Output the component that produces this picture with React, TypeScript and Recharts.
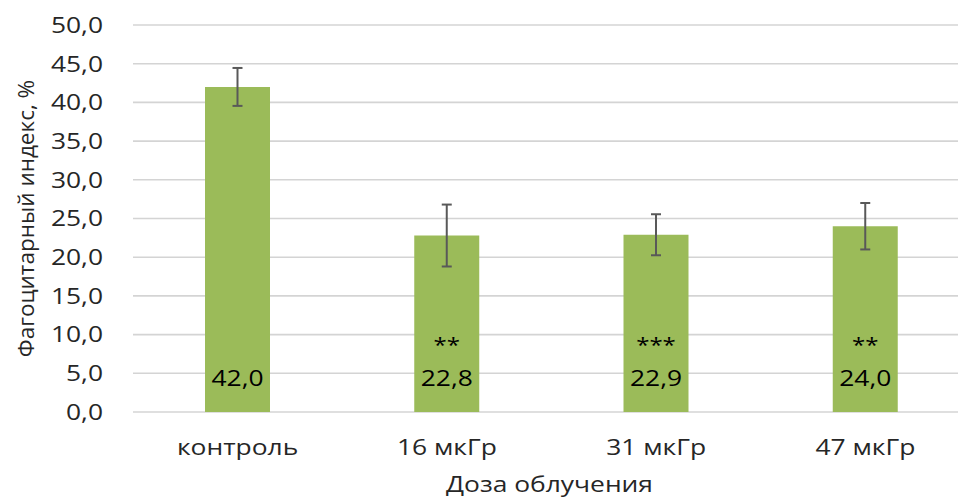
import React from 'react';
import {
  BarChart,
  Bar,
  XAxis,
  YAxis,
  CartesianGrid,
  ErrorBar,
  LabelList,
  Label,
} from 'recharts';

// Phagocytic index by irradiation dose
const categories = ['контроль', '16 мкГр', '31 мкГр', '47 мкГр'];
const phagocyticIndex = [42.0, 22.8, 22.9, 24.0];
const stdError = [2.45, 4.0, 2.65, 3.0];
const significance = ['', '**', '***', '**'];
const yTicks = [0, 5, 10, 15, 20, 25, 30, 35, 40, 45, 50];

const rows = categories.map((name, i) => ({
  name,
  value: phagocyticIndex[i],
  err: stdError[i],
  sig: significance[i],
}));

const FONT = '"Open Sans", "Noto Sans", sans-serif';
const TEXT = '#262626';
const BAR = '#9bbb59';
// the horizontal texts use a wide face: stretch them sideways
const WIDE = 1.2;

const fmt = (v: number) => v.toFixed(1).replace('.', ',');

const XTick = (props: any) => {
  const { x, y, payload } = props;
  return (
    <g transform={`translate(${x},${y}) scale(${WIDE},1)`}>
      <text x={0} y={0} dy={15.6} textAnchor="middle" fontFamily={FONT} fontSize={22} fill={TEXT}>
        {payload.value}
      </text>
    </g>
  );
};

const YTick = (props: any) => {
  const { x, y, payload } = props;
  return (
    <g transform={`translate(${x},${y}) scale(${WIDE},1)`}>
      <text x={0} y={0} dy="0.355em" textAnchor="end" fontFamily={FONT} fontSize={22} fill={TEXT}>
        {fmt(Number(payload.value))}
      </text>
    </g>
  );
};

// text placed a fixed distance above the bar's base
const baseLabel = (lift: number, size: number, format: (v: any) => string) => (props: any) => {
  const { x, y, width, height, value } = props;
  const s = format(value);
  if (!s) return null;
  return (
    <g transform={`translate(${x + width / 2},${y + height - lift}) scale(${WIDE},1)`}>
      <text x={0} y={0} textAnchor="middle" fontFamily={FONT} fontSize={size} fill="#000000">
        {s}
      </text>
    </g>
  );
};

const YTitle = (props: any) => {
  const vb = props.viewBox || {};
  const cx = vb.x + 25;
  const cy = vb.y + vb.height / 2;
  return (
    <text
      x={cx}
      y={cy}
      transform={`rotate(-90, ${cx}, ${cy})`}
      textAnchor="middle"
      dominantBaseline="central"
      fontFamily={FONT}
      fontSize={22.5}
      fill={TEXT}
    >
      Фагоцитарный индекс, %
    </text>
  );
};

const XTitle = (props: any) => {
  const vb = props.viewBox || {};
  return (
    <g transform={`translate(${vb.x + vb.width / 2 - 2},${vb.y + vb.height - 5}) scale(${WIDE},1)`}>
      <text x={0} y={0} textAnchor="middle" fontFamily={FONT} fontSize={22} fill={TEXT}>
        Доза облучения
      </text>
    </g>
  );
};

export default function App() {
  return (
    <div
      style={{
        position: 'absolute',
        left: 0,
        top: 0,
        width: 958,
        height: 497,
        overflow: 'hidden',
        background: '#ffffff',
      }}
    >
      <BarChart
        width={975}
        height={497}
        data={rows}
        margin={{ top: 25, right: 5, bottom: 0, left: 0 }}
      >
        <CartesianGrid vertical={false} stroke="#d4d4d4" strokeWidth={1.6} />
        <XAxis
          dataKey="name"
          height={85}
          tickLine={false}
          axisLine={false}
          tickSize={0}
          tickMargin={27}
          tick={<XTick />}
        >
          <Label content={<XTitle />} />
        </XAxis>
        <YAxis
          width={133}
          domain={[0, 50]}
          ticks={yTicks}
          interval={0}
          tickLine={false}
          axisLine={false}
          tickSize={0}
          tickMargin={30}
          tick={<YTick />}
        >
          <Label content={<YTitle />} />
        </YAxis>
        <Bar dataKey="value" fill={BAR} barSize={65} isAnimationActive={false}>
          <ErrorBar
            dataKey="err"
            width={5}
            strokeWidth={2}
            stroke="#595959"
            isAnimationActive={false}
          />
          <LabelList dataKey="value" content={baseLabel(26, 22, (v) => fmt(Number(v)))} />
          <LabelList dataKey="sig" content={baseLabel(60, 20, (v) => String(v || ''))} />
        </Bar>
      </BarChart>
    </div>
  );
}
